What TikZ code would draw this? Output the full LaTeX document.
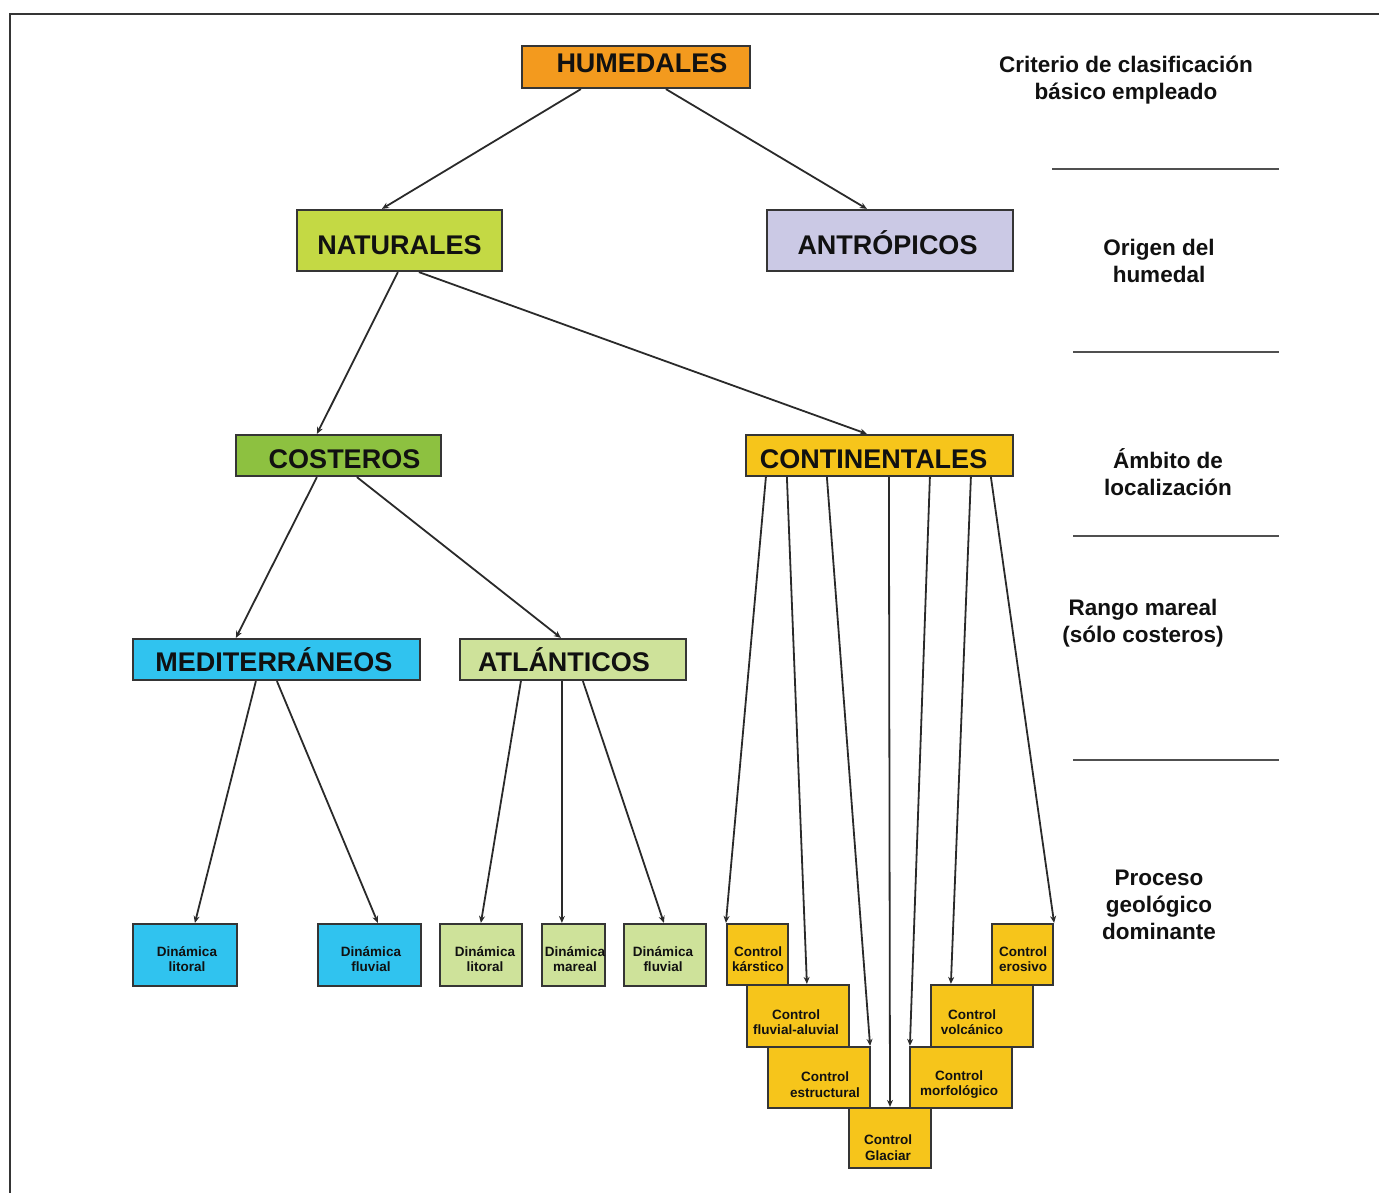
\documentclass[tikz,border=0pt]{standalone}
\usepackage{fontspec}
\setmainfont{Liberation Sans}
\usetikzlibrary{arrows.meta}
\definecolor{cOrange}{HTML}{F39A1E}
\definecolor{cNat}{HTML}{C4D944}
\definecolor{cAnt}{HTML}{CBC9E5}
\definecolor{cCos}{HTML}{8DC140}
\definecolor{cCon}{HTML}{F6C51B}
\definecolor{cMed}{HTML}{30C3EF}
\definecolor{cAtl}{HTML}{CEE29A}
\definecolor{bordC}{HTML}{353535}
\definecolor{lineC}{HTML}{2A2A2A}
\definecolor{ruleC}{HTML}{505050}
\definecolor{txtC}{HTML}{111111}
\begin{document}
\begin{tikzpicture}[x=1pt,y=-1pt,
  box/.style={draw=bordC, line width=2.2pt, inner sep=0pt, rectangle},
  big/.style={font=\bfseries\fontsize{27}{32}\selectfont, text=txtC, inner sep=0pt, text height=19.3pt, text depth=0pt},
  small/.style={font=\bfseries\fontsize{13.5}{15.5}\selectfont, text=txtC, align=center, inner sep=0pt},
  side/.style={font=\bfseries\fontsize{22.5}{27}\selectfont, text=txtC, align=center, inner sep=0pt},
  arr/.style={draw=lineC, line width=1.8pt, -{Stealth[length=7pt,width=6pt]}},
  rule/.style={draw=ruleC, line width=2pt},
  frame/.style={draw=bordC, line width=2pt}]
\useasboundingbox (0,0) rectangle (1379,1193);
\draw[frame] (10,1193) -- (10,14) -- (1379,14);

% main boxes
\node[box, fill=cOrange, minimum width=228pt, minimum height=42pt] (hum) at (636,67) {};
\node[big] (humT) at (642,63) {HUMEDALES};
\node[box, fill=cNat, minimum width=205pt, minimum height=61pt] (nat) at (399.5,240.5) {};
\node[big] (natT) at (399.5,244.5) {NATURALES};
\node[box, fill=cAnt, minimum width=246pt, minimum height=61pt] (ant) at (890,240.5) {};
\node[big] (antT) at (887.5,244.5) {ANTRÓPICOS};
\node[box, fill=cCos, minimum width=205pt, minimum height=41pt] (cos) at (338.5,455.5) {};
\node[big] (cosT) at (344.5,459) {COSTEROS};
\node[box, fill=cCon, minimum width=267pt, minimum height=41pt] (con) at (879.5,455.5) {};
\node[big] (conT) at (873.5,459) {CONTINENTALES};
\node[box, fill=cMed, minimum width=287pt, minimum height=41pt] (med) at (276.5,659.5) {};
\node[big] (medT) at (274,662) {MEDITERRÁNEOS};
\node[box, fill=cAtl, minimum width=226pt, minimum height=41pt] (atl) at (573,659.5) {};
\node[big] (atlT) at (564,662) {ATLÁNTICOS};

% dinamica boxes
\node[box, fill=cMed, minimum width=104pt, minimum height=62pt] (dl1) at (185,955) {};
\node[small] (dl1T) at (187,959) {Dinámica\\litoral};
\node[box, fill=cMed, minimum width=103pt, minimum height=62pt] (df1) at (369.5,955) {};
\node[small] (df1T) at (371,959) {Dinámica\\fluvial};
\node[box, fill=cAtl, minimum width=82pt, minimum height=62pt] (dl2) at (481,955) {};
\node[small] (dl2T) at (485,959) {Dinámica\\litoral};
\node[box, fill=cAtl, minimum width=63pt, minimum height=62pt] (dm) at (573.5,955) {};
\node[small] (dmT) at (575,959) {Dinámica\\mareal};
\node[box, fill=cAtl, minimum width=82pt, minimum height=62pt] (df2) at (665,955) {};
\node[small] (df2T) at (663,959) {Dinámica\\fluvial};

% control boxes
\node[box, fill=cCon, minimum width=102pt, minimum height=62pt] (cf) at (798,1016) {};
\node[small] (cfT) at (796,1022) {Control\\fluvial-aluvial};
\node[box, fill=cCon, minimum width=61pt, minimum height=61pt] (ck) at (757.5,954.5) {};
\node[small] (ckT) at (758,959) {Control\\kárstico};
\node[box, fill=cCon, minimum width=82pt, minimum height=60pt] (cg) at (890,1138) {};
\node[small] (cgT) at (888,1147.5) {Control\\Glaciar};
\node[box, fill=cCon, minimum width=102pt, minimum height=61pt] (ce) at (819,1077.5) {};
\node[small] (ceT) at (825,1084.5) {Control\\estructural};
\node[box, fill=cCon, minimum width=102pt, minimum height=61pt] (cm) at (961,1077.5) {};
\node[small] (cmT) at (959,1084.5) {Control\\morfológico};
\node[box, fill=cCon, minimum width=102pt, minimum height=62pt] (cv) at (982,1016) {};
\node[small] (cvT) at (972,1022) {Control\\volcánico};
\node[box, fill=cCon, minimum width=61pt, minimum height=61pt] (cer) at (1022.5,954.5) {};
\node[small] (cerT) at (1023,959) {Control\\erosivo};

% connectors
\draw[arr] ([xshift=60pt]hum.south west) -- ([xshift=86pt]nat.north west);
\draw[arr] ([xshift=145pt]hum.south west) -- ([xshift=101pt]ant.north west);
\draw[arr] ([xshift=102pt]nat.south west) -- ([xshift=82pt]cos.north west);
\draw[arr] ([xshift=123pt]nat.south west) -- ([xshift=122pt]con.north west);
\draw[arr] ([xshift=82pt]cos.south west) -- ([xshift=104pt]med.north west);
\draw[arr] ([xshift=122pt]cos.south west) -- ([xshift=102pt]atl.north west);
\draw[arr] ([xshift=124pt]med.south west) -- ([xshift=63pt]dl1.north west);
\draw[arr] ([xshift=145pt]med.south west) -- ([xshift=61pt]df1.north west);
\draw[arr] ([xshift=62pt]atl.south west) -- ([xshift=42pt]dl2.north west);
\draw[arr] ([xshift=103pt]atl.south west) -- ([xshift=21pt]dm.north west);
\draw[arr] ([xshift=124pt]atl.south west) -- ([xshift=41pt]df2.north west);
\draw[arr] ([xshift=21pt]con.south west) -- (ck.north west);
\draw[arr] ([xshift=42pt]con.south west) -- ([xshift=61pt]cf.north west);
\draw[arr] ([xshift=82pt]con.south west) -- ([xshift=-1pt]ce.north east);
\draw[arr] ([xshift=144pt]con.south west) -- (cg.north);
\draw[arr] ([xshift=185pt]con.south west) -- ([xshift=1pt]cm.north west);
\draw[arr] ([xshift=226pt]con.south west) -- ([xshift=21pt]cv.north west);
\draw[arr] ([xshift=246pt]con.south west) -- (cer.north east);

% side column
\node[side] (crit) at (1126,80.4) {Criterio de clasificación\\básico empleado};
\node[side] (orig) at (1159,260.5) {Origen del\\humedal};
\node[side] (amb) at (1168,472.5) {Ámbito de\\localización};
\node[side] (rango) at (1143,623) {Rango mareal\\(sólo costeros)};
\node[side] (proc) at (1159,905) {Proceso\\geológico\\dominante};
\draw[rule] (1052,169) -- (1279,169);
\draw[rule] (1073,352) -- (1279,352);
\draw[rule] (1073,536) -- (1279,536);
\draw[rule] (1073,760) -- (1279,760);
\end{tikzpicture}
\end{document}
